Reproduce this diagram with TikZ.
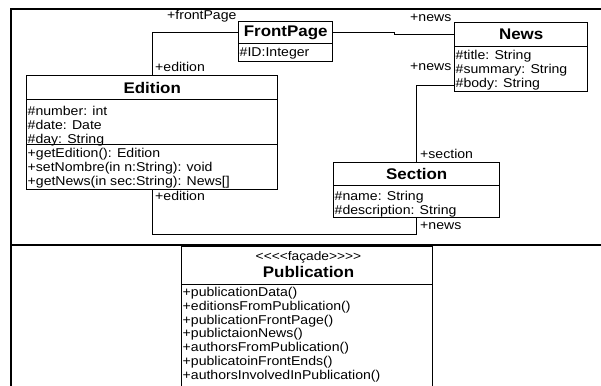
\documentclass[tikz,border=0pt]{standalone}
\usepackage{fontspec}
\setmainfont{Liberation Sans}[FakeStretch=1.1]
\begin{document}
\begin{tikzpicture}[x=1pt,y=-1pt,
  frame/.style={line width=2.8pt},
  box/.style={draw, line width=1.4pt, inner sep=0pt, anchor=north west},
  title/.style={font=\fontsize{15.4}{17}\selectfont\bfseries},
  txt/.style={font=\fontsize{12.8}{14}\selectfont, inner sep=0pt, anchor=base west},
  conn/.style={line width=1.4pt}]
\clip (0,0) rectangle (601,385);

% outer frame and divider
\draw[frame] (11,390) -- (11,9) -- (605,9);
\draw[frame] (11,245) -- (605,245);

% Edition
\node[box, title, minimum width=251pt, minimum height=24pt] (edh) at (26,75) {Edition};
\node[box, minimum width=251pt, minimum height=45pt] (eda) at (26,99) {};
\node[box, minimum width=251pt, minimum height=45pt] (edm) at (26,144) {};
\node[txt] (ed1) at (27.5,115) {\#number: int};
\node[txt] (ed2) at (27.5,129) {\#date: Date};
\node[txt] (ed3) at (27.5,143) {\#day: String};
\node[txt] (ed4) at (27.5,157) {+getEdition(): Edition};
\node[txt] (ed5) at (27.5,171) {+setNombre(in n:String): void};
\node[txt] (ed6) at (27.5,185) {+getNews(in sec:String): News[]};

% FrontPage
\node[box, title, minimum width=94pt, minimum height=22pt] (fph) at (238,21) {FrontPage};
\node[box, minimum width=94pt, minimum height=18pt] (fpa) at (238,43) {};
\node[txt] (fp1) at (239.5,57) {\underline{\#ID:Integer}};

% News
\node[box, title, minimum width=133pt, minimum height=24pt] (nwh) at (454,22) {News};
\node[box, minimum width=133pt, minimum height=45pt] (nwa) at (454,46) {};
\node[txt] (nw1) at (455.5,59.5) {\#title: String};
\node[txt] (nw2) at (455.5,73.5) {\#summary: String};
\node[txt] (nw3) at (455.5,87.5) {\#body: String};

% Section
\node[box, title, minimum width=166pt, minimum height=23pt] (sch) at (333,162) {Section};
\node[box, minimum width=166pt, minimum height=32pt] (sca) at (333,185) {};
\node[txt] (sc1) at (334.5,200.5) {\#name: String};
\node[txt] (sc2) at (334.5,214) {\#description: String};

% Publication facade
\node[box, minimum width=251pt, minimum height=38pt] (pbh) at (181,246) {};
\node[font=\fontsize{12.5}{13}\selectfont, inner sep=0pt, anchor=base] (pbs) at (308.5,260) {<{}<{}<{}<façade>{}>{}>{}>};
\node[title, inner sep=0pt, anchor=base] (pbt) at (308.5,277.3) {Publication};
\node[box, minimum width=251pt, minimum height=120pt] (pbm) at (181,284) {};
\node[txt] (pb1) at (182.5,296.5) {+publicationData()};
\node[txt] (pb2) at (182.5,310.3) {+editionsFromPublication()};
\node[txt] (pb3) at (182.5,324.1) {+publicationFrontPage()};
\node[txt] (pb4) at (182.5,337.9) {+publictaionNews()};
\node[txt] (pb5) at (182.5,351.7) {+authorsFromPublication()};
\node[txt] (pb6) at (182.5,365.5) {+publicatoinFrontEnds()};
\node[txt] (pb7) at (182.5,379.3) {+authorsInvolvedInPublication()};

% associations
\draw[conn] (fph.west) -| (edh.north);
\draw[conn] (fph.east) -- ([xshift=61pt]fph.east) |- (nwh.west);
\draw[conn] ([yshift=7pt]nwa.south west) -| (sch.north);
\draw[conn] (edm.south) -- ++(0,44) -| (sca.south);

% role names
\node[txt] (r1) at (167,19.2) {+frontPage};
\node[txt] (r2) at (155,72) {+edition};
\node[txt] (r3) at (410,22) {+news};
\node[txt] (r4) at (410,71) {+news};
\node[txt] (r5) at (420,158) {+section};
\node[txt] (r6) at (155,200) {+edition};
\node[txt] (r7) at (420,229) {+news};
\end{tikzpicture}
\end{document}
